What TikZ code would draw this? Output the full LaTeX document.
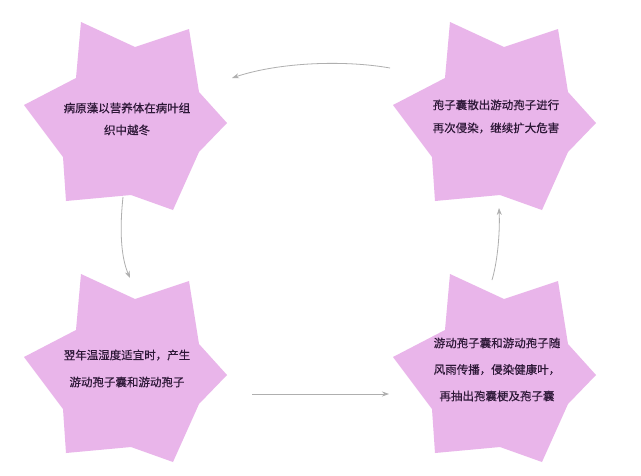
\documentclass[tikz,border=0pt]{standalone}
\usepackage{fontspec}
\newfontfamily\cjk[FakeBold=0.4]{Noto Sans CJK SC}
\usetikzlibrary{arrows.meta}
\definecolor{starfill}{RGB}{233,181,234}
\definecolor{txt}{RGB}{45,24,55}
\definecolor{arrowgray}{RGB}{175,175,175}
\tikzset{
  hexstar/.pic={\fill[starfill] (-46,-94) -- (8,-69) -- (62,-87) -- (72,-24) -- (100,7) -- (72,36) -- (46,94) -- (4,79) -- (-61,85) -- (-64,41) -- (-103,-11) -- (-51,-38) -- cycle;},
  startext/.style={align=center,text=txt,inner sep=0pt,font=\cjk\fontsize{11.5}{22}\selectfont},
  arr/.style={draw=arrowgray,line width=0.8pt,-{Stealth[length=7pt,width=5pt]}}
}
\begin{document}
\begin{tikzpicture}[x=1pt,y=-1pt]
\useasboundingbox (0,0) rectangle (641,475);
\fill[white] (0,0) rectangle (641,475);
% star centres
\coordinate (s1) at (127,116);
\coordinate (s2) at (496,116);
\coordinate (s3) at (127,368);
\coordinate (s4) at (496,368);
\pic at (s1) {hexstar};
\pic at (s2) {hexstar};
\pic at (s3) {hexstar};
\pic at (s4) {hexstar};
\node[startext] (t1) at (127,119) {病原藻以营养体在病叶组\\织中越冬};
\node[startext,font=\cjk\fontsize{11.5}{23}\selectfont] (t2) at (496,116.5) {孢子囊散出游动孢子进行\\再次侵染，继续扩大危害};
\node[startext,font=\cjk\fontsize{11.5}{27}\selectfont] (t3) at (127,368.5) {翌年温湿度适宜时，产生\\游动孢子囊和游动孢子};
\node[startext,font=\cjk\fontsize{11.5}{26.5}\selectfont] (t4) at (497,369.5) {游动孢子囊和游动孢子随\\风雨传播，侵染健康叶，\\再抽出孢囊梗及孢子囊};
% connectors
\draw[arr] ([shift={(-106,-48)}]s2) .. controls (345,60) and (280,62) .. ([shift={(105,-38)}]s1);
\draw[arr] ([shift={(-4,81)}]s1) .. controls (120,225) and (120,255) .. ([shift={(3,-90)}]s3);
\draw[arr] ([shift={(125,26)}]s3) -- ([shift={(-107,26)}]s4);
\draw[arr] ([shift={(-4,-88)}]s4) .. controls (498,260) and (500,230) .. ([shift={(3,92)}]s2);
\end{tikzpicture}
\end{document}
